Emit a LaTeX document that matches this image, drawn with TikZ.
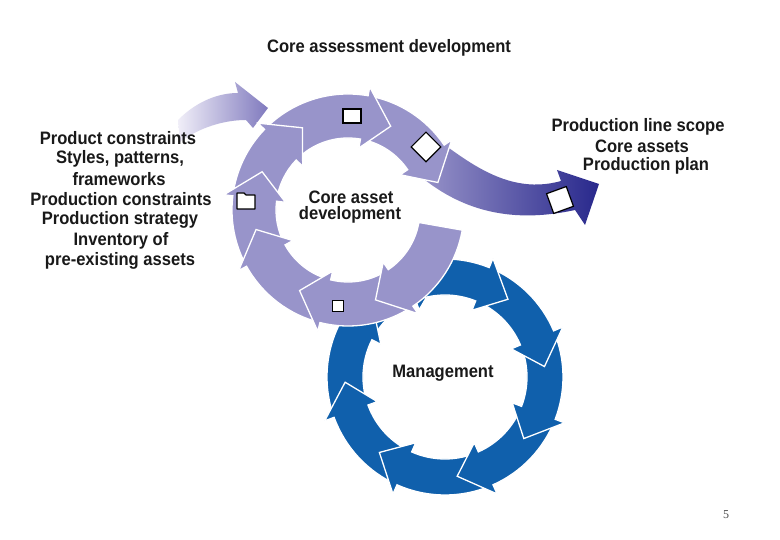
\documentclass[tikz,border=0pt]{standalone}
\usepackage{fontspec}
\setmainfont{Liberation Sans}
\newfontfamily\pgnumfont{Liberation Serif}
\definecolor{ringP}{RGB}{152,148,202}
\definecolor{ringB}{RGB}{16,96,172}
\definecolor{outL}{RGB}{165,160,208}
\definecolor{outM}{RGB}{112,106,182}
\definecolor{outR}{RGB}{40,40,140}
\definecolor{inL}{RGB}{240,238,248}
\definecolor{inR}{RGB}{128,122,190}
\definecolor{txt}{RGB}{25,25,25}
\newcommand{\cz}[1]{\scalebox{0.92}[1]{#1}}
% tail angle, tip angle, inner radius, outer radius, style
\newcommand{\ringseg}[5]{%
  \pgfmathsetmacro{\rgMid}{(#3+#4)/2}%
  \pgfmathsetmacro{\rgBase}{#2+\rgHd}%
  \pgfmathsetmacro{\rgIn}{#3-\rgPe}%
  \pgfmathsetmacro{\rgOut}{#4+\rgPe}%
  \path[#5] (#1:#4) arc[start angle=#1, end angle=\rgBase, radius=#4]
    -- (\rgBase:\rgOut) -- (#2:\rgMid) -- (\rgBase:\rgIn) -- (\rgBase:#3)
    arc[start angle=\rgBase, end angle=#1, radius=#3] -- cycle;}
\begin{document}
\begin{tikzpicture}[x=1pt,y=1pt,
  lbl/.style={font=\fontsize{18}{20}\selectfont\bfseries, text=txt, inner sep=0pt},
  segP/.style={fill=ringP, draw=white, line width=1.3pt, line join=miter},
  segB/.style={fill=ringB, draw=white, line width=1.3pt, line join=miter},
  marker/.style={fill=white, draw=black, line width=1.2pt, inner sep=0pt}]
\useasboundingbox (0,0) rectangle (780,540);
\fill[white] (0,0) rectangle (780,540);

% ---- Management ring (blue) ----
\begin{scope}[shift={(445,163)}]
  \def\rgHd{17}\def\rgPe{10}
  \ringseg{163}{94}{82}{118}{segB}
  \ringseg{207}{136}{82}{118}{segB}
  \ringseg{-114}{-177}{82}{118}{segB}
  \ringseg{-66}{-131}{82}{118}{segB}
  \ringseg{-21}{-83}{82}{118}{segB}
  \ringseg{23}{-38}{82}{118}{segB}
  \ringseg{68}{6}{82}{118}{segB}
  \ringseg{111}{51}{82}{118}{segB}
\end{scope}

% ---- incoming arrow ----
\path[left color=inL, right color=inR]
  (178,420) .. controls (198,440) and (220,447) .. (238,447)
  -- (235,458) -- (268,432) -- (253,412) -- (246,420)
  .. controls (225,420) and (200,413) .. (180,398) -- cycle;

% ---- outgoing arrow ----
\path[left color=outL, middle color=outM, right color=outR]
  (408,422) .. controls (455,390) and (500,342) .. (561,359)
  -- (557,370) -- (599,356) -- (585,315) -- (575,330)
  .. controls (520,318) and (470,325) .. (425,360)
  -- (400,400) -- cycle;

% ---- Core asset ring (purple) ----
\begin{scope}[shift={(348,330)}]
  \def\rgHd{17}\def\rgPe{9}
  \ringseg{80}{17}{72}{116}{segP}
  \ringseg{136}{63}{72}{116}{segP}
  \ringseg{173}{119}{72}{116}{segP}
  \ringseg{209}{156}{72}{116}{segP}
  \ringseg{-104}{-168}{72}{116}{segP}
  \ringseg{-56}{-121}{72}{116}{segP}
  \ringseg{-10}{-73}{72}{116}{segP}
\end{scope}

% ---- markers ----
\node[marker, minimum width=18pt, minimum height=14pt] (sq1) at (352,424) {};
\node[marker, rotate=45, minimum size=21pt] (dia) at (426,393) {};
\node[marker, minimum size=11pt] (sq2) at (338,234) {};
\node[marker, rotate=20, minimum size=21pt] (sq3) at (560,340) {};
\draw[fill=white, draw=black, line width=1.2pt, line join=round]
  (237,347) -- (244,347) -- (246,345) -- (255,345) -- (255,331) -- (237,331) -- cycle;

% ---- texts ----
\node[lbl] (title) at (389,492) {\cz{Core assessment development}};
\node[lbl] (l1) at (118,402) {\cz{Product constraints}};
\node[lbl] (l2) at (120,381.5) {\cz{Styles, patterns,}};
\node[lbl] (l3) at (119,361) {\cz{frameworks}};
\node[lbl] (l4) at (121,340.5) {\cz{Production constraints}};
\node[lbl] (l5) at (120,320) {\cz{Production strategy}};
\node[lbl] (l6) at (121,299.5) {\cz{Inventory of}};
\node[lbl] (l7) at (120,279) {\cz{pre-existing assets}};
\node[lbl] (r1) at (638,413) {\cz{Production line scope}};
\node[lbl] (r2) at (642,393.5) {\cz{Core assets}};
\node[lbl] (r3) at (646,374) {\cz{Production plan}};
\node[lbl] (c1) at (351,343) {\cz{Core asset}};
\node[lbl] (c2) at (350,325) {\cz{development}};
\node[lbl] (mg) at (443,167) {\cz{Management}};
\node[font=\fontsize{12}{14}\selectfont\pgnumfont, text=black!70] (pg) at (726,25) {5};
\end{tikzpicture}
\end{document}
